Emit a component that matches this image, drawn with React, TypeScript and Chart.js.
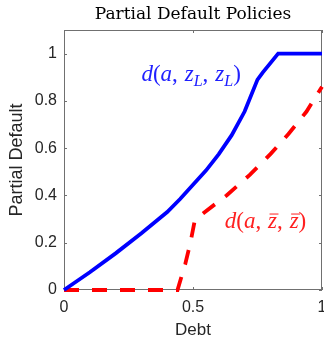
import React, { useEffect, useRef } from "react";
import { Chart, registerables } from "chart.js";

Chart.register(...registerables);

// ---- data ----
const xTicks = [0, 0.5, 1];
const yTicks = [0, 0.2, 0.4, 0.6, 0.8, 1];

const blueX = [0, 0.1, 0.2, 0.3, 0.4, 0.45, 0.5, 0.55, 0.6, 0.65, 0.7, 0.75, 0.77, 0.83, 1];
const blueY = [0, 0.075, 0.155, 0.24, 0.33, 0.385, 0.445, 0.505, 0.575, 0.655, 0.755, 0.89, 0.92, 1, 1];

const redX = [0, 0.44, 0.47, 0.49, 0.507, 0.54, 0.63, 0.72, 0.8, 0.87, 0.94, 1];
const redY = [0, 0, 0.11, 0.2, 0.295, 0.325, 0.4, 0.487, 0.575, 0.66, 0.755, 0.86];

const titleText = "Partial Default Policies";
const xTitle = "Debt";
const yTitle = "Partial Default";

// annotation anchors (data coordinates: left edge, baseline)
const blueLabelAt = { x: 0.3, y: 0.883 };
const redLabelAt = { x: 0.623, y: 0.263 };

type Part = { t: string; i?: boolean; sub?: boolean; bar?: boolean; gap?: number };

const blueLabel: Part[] = [
  { t: "d", i: true },
  { t: "(" },
  { t: "a", i: true },
  { t: ",", gap: 0.3 },
  { t: "z", i: true },
  { t: "L", i: true, sub: true },
  { t: ",", gap: 0.3 },
  { t: "z", i: true },
  { t: "L", i: true, sub: true },
  { t: ")" },
];

const redLabel: Part[] = [
  { t: "d", i: true },
  { t: "(" },
  { t: "a", i: true },
  { t: ",", gap: 0.3 },
  { t: "z", i: true, bar: true },
  { t: ",", gap: 0.3 },
  { t: "z", i: true, bar: true },
  { t: ")" },
];

function drawMath(ctx: CanvasRenderingContext2D, parts: Part[], x: number, y: number, size: number, color: string) {
  ctx.save();
  ctx.fillStyle = color;
  ctx.strokeStyle = color;
  ctx.textBaseline = "alphabetic";
  ctx.textAlign = "left";
  let cx = x;
  for (const p of parts) {
    const s = p.sub ? size * 0.7 : size;
    ctx.font = `${p.i ? "italic " : ""}${s}px "Liberation Serif"`;
    const dy = p.sub ? size * 0.2 : 0;
    ctx.fillText(p.t, cx, y + dy);
    const w = ctx.measureText(p.t).width;
    if (p.bar) {
      ctx.lineWidth = 1;
      ctx.beginPath();
      ctx.moveTo(cx + 1.5, y - size * 0.6);
      ctx.lineTo(cx + w + 1.5, y - size * 0.6);
      ctx.stroke();
    }
    cx += w + (p.gap || 0) * size;
  }
  ctx.restore();
}

const boxPlugin = {
  id: "matlabBox",
  beforeDatasetsDraw(chart: any) {
    const { ctx, chartArea: a, scales } = chart;
    ctx.save();
    ctx.strokeStyle = "#707070";
    ctx.lineWidth = 1;
    ctx.strokeRect(Math.round(a.left) + 0.5, Math.round(a.top) + 0.5, Math.round(a.right - a.left) - 1, Math.round(a.bottom - a.top) - 1);
    const tl = 3;
    ctx.beginPath();
    for (const v of xTicks) {
      const px = Math.round(scales.x.getPixelForValue(v)) + 0.5;
      ctx.moveTo(px, a.bottom);
      ctx.lineTo(px, a.bottom - tl);
      ctx.moveTo(px, a.top);
      ctx.lineTo(px, a.top + tl);
    }
    for (const v of yTicks) {
      const py = Math.round(scales.y.getPixelForValue(v)) + 0.5;
      ctx.moveTo(a.left, py);
      ctx.lineTo(a.left + tl, py);
      ctx.moveTo(a.right, py);
      ctx.lineTo(a.right - tl, py);
    }
    ctx.stroke();
    ctx.restore();
  },
  afterDraw(chart: any) {
    const { ctx, scales } = chart;
    drawMath(ctx, blueLabel, scales.x.getPixelForValue(blueLabelAt.x), scales.y.getPixelForValue(blueLabelAt.y), 23, "#2020ff");
    drawMath(ctx, redLabel, scales.x.getPixelForValue(redLabelAt.x), scales.y.getPixelForValue(redLabelAt.y), 23, "#ff2020");
  },
};

export default function App() {
  const ref = useRef<HTMLCanvasElement | null>(null);
  useEffect(() => {
    document.body.style.margin = "0";
    const canvas = ref.current;
    if (!canvas) return;
    const chart = new Chart(canvas, {
      type: "line",
      data: {
        datasets: [
          {
            label: "d(a,zL,zL)",
            data: blueX.map((x, i) => ({ x, y: blueY[i] })),
            borderColor: "#0000ff",
            borderWidth: 3.8,
            pointRadius: 0,
            fill: false,
            tension: 0,
            clip: false as any,
          },
          {
            label: "d(a,zbar,zbar)",
            data: redX.map((x, i) => ({ x, y: redY[i] })),
            borderColor: "#ff0000",
            borderWidth: 3.8,
            borderDash: [15, 13],
            pointRadius: 0,
            fill: false,
            tension: 0,
            clip: false as any,
          },
        ],
      },
      options: {
        responsive: false,
        animation: false,
        devicePixelRatio: 1,
        layout: { padding: { left: 0, right: 2, top: 0, bottom: 0 } },
        plugins: {
          legend: { display: false },
          tooltip: { enabled: false },
          title: {
            display: true,
            text: titleText,
            fullSize: false,
            color: "#000000",
            font: { family: "DejaVu Serif", size: 17, weight: "normal", lineHeight: 1.2 },
            padding: { top: 4, bottom: 5.6 },
          },
        },
        scales: {
          x: {
            type: "linear",
            min: 0,
            max: 1,
            grid: { display: false, drawTicks: false },
            border: { display: false },
            afterBuildTicks: (s: any) => {
              s.ticks = xTicks.map((v) => ({ value: v }));
            },
            afterFit: (s: any) => {
              s.height = 51;
              s.paddingRight = 0;
              s.paddingLeft = 0;
            },
            ticks: {
              color: "#262626",
              padding: 8,
              maxRotation: 0,
              autoSkip: false,
              font: { family: "Liberation Sans", size: 16 },
              callback: (v: any) => String(v),
            },
            title: {
              display: true,
              text: xTitle,
              color: "#262626",
              font: { family: "Liberation Sans", size: 17 },
              padding: { top: 7, bottom: 0 },
            },
          },
          y: {
            type: "linear",
            min: 0,
            max: 1.1,
            grid: { display: false, drawTicks: false },
            border: { display: false },
            afterBuildTicks: (s: any) => {
              s.ticks = yTicks.map((v) => ({ value: v }));
            },
            afterFit: (s: any) => {
              s.width = 64;
            },
            ticks: {
              color: "#262626",
              padding: 7,
              autoSkip: false,
              font: { family: "Liberation Sans", size: 16 },
              callback: (v: any) => String(v),
            },
            title: {
              display: true,
              text: yTitle,
              color: "#262626",
              font: { family: "Liberation Sans", size: 18 },
              padding: { top: 6, bottom: 0 },
            },
          },
        },
      },
      plugins: [boxPlugin],
    });
    return () => chart.destroy();
  }, []);
  return (
    <div style={{ width: 324, height: 341 }}>
      <canvas ref={ref} width={324} height={341} style={{ display: "block" }} />
    </div>
  );
}
